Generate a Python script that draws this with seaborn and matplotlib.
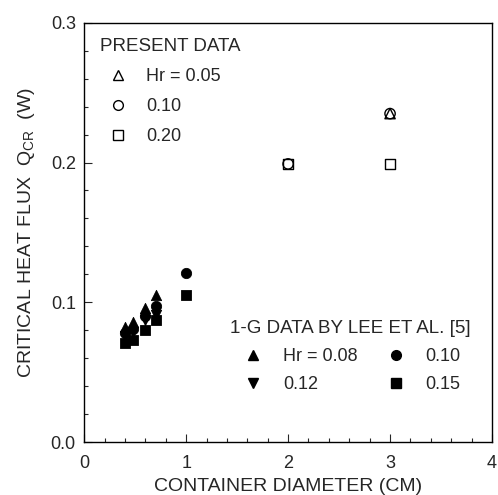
import numpy as np
import pandas as pd
import matplotlib
matplotlib.use("Agg")
import matplotlib.pyplot as plt
from matplotlib.ticker import MultipleLocator, FormatStrFormatter
import seaborn as sns

# present data (open symbols)
hr005_d = [3.0]
hr005_q = [0.235]
hr010_d = [2.0, 3.0]
hr010_q = [0.199, 0.235]
hr020_d = [2.0, 3.0]
hr020_q = [0.199, 0.199]

# 1-G data by Lee et al. (filled symbols)
lee008_d = [0.4, 0.48, 0.6, 0.7]
lee008_q = [0.082, 0.086, 0.096, 0.105]
lee010_d = [0.4, 0.48, 0.6, 0.7, 1.0]
lee010_q = [0.078, 0.081, 0.090, 0.097, 0.121]
lee012_d = [0.4, 0.48, 0.6, 0.7]
lee012_q = [0.076, 0.079, 0.087, 0.091]
lee015_d = [0.4, 0.48, 0.6, 0.7, 1.0]
lee015_q = [0.071, 0.073, 0.080, 0.087, 0.105]

sns.set_style("ticks")
plt.rcParams['font.family'] = ['Liberation Sans', 'DejaVu Sans']
plt.rcParams['mathtext.fontset'] = 'custom'
plt.rcParams['mathtext.rm'] = 'Liberation Sans'
plt.rcParams['mathtext.it'] = 'Liberation Sans'

fig = plt.figure(figsize=(4.98, 4.95), dpi=100)
ax = fig.add_axes([0.169, 0.107, 0.819, 0.847])

ms = 55
open_kw = dict(facecolor="none", edgecolor="black", linewidth=1.0, s=ms)
fill_kw = dict(color="black", edgecolor="black", s=ms)

sns.scatterplot(x=hr005_d, y=hr005_q, marker="^", ax=ax, **open_kw)
sns.scatterplot(x=hr010_d, y=hr010_q, marker="o", ax=ax, **open_kw)
sns.scatterplot(x=hr020_d, y=hr020_q, marker="s", ax=ax, **open_kw)
sns.scatterplot(x=lee008_d, y=lee008_q, marker="^", ax=ax, **fill_kw)
sns.scatterplot(x=lee010_d, y=lee010_q, marker="o", ax=ax, **fill_kw)
sns.scatterplot(x=lee012_d, y=lee012_q, marker="v", ax=ax, **fill_kw)
sns.scatterplot(x=lee015_d, y=lee015_q, marker="s", ax=ax, **fill_kw)

ax.set_xlim(0, 4)
ax.set_ylim(0, 0.3)
ax.xaxis.set_major_locator(MultipleLocator(1))
ax.xaxis.set_minor_locator(MultipleLocator(0.2))
ax.yaxis.set_major_locator(MultipleLocator(0.1))
ax.yaxis.set_minor_locator(MultipleLocator(0.02))
ax.xaxis.set_major_formatter(FormatStrFormatter('%d'))
ax.yaxis.set_major_formatter(FormatStrFormatter('%.1f'))
ax.tick_params(which="both", direction="in", labelsize=13, top=False, right=False, width=0.8)
ax.tick_params(which="major", length=6)
ax.tick_params(axis="x", which="major", pad=9)
ax.tick_params(axis="y", which="major", pad=6)
ax.tick_params(which="minor", length=3)
for sp in ax.spines.values():
    sp.set_linewidth(1.0)
    sp.set_color("black")

ax.set_xlabel("CONTAINER DIAMETER (CM)", fontsize=14, labelpad=5)
ax.set_ylabel("CRITICAL HEAT FLUX  Q$_{\\mathrm{CR}}$  (W)", fontsize=14, labelpad=10)

def mk(marker, filled):
    return plt.Line2D([], [], linestyle="none", marker=marker, markersize=7,
                      markerfacecolor="black" if filled else "none",
                      markeredgecolor="black", markeredgewidth=1.0)

leg1 = ax.legend([mk("^", False), mk("o", False), mk("s", False)],
                 ["Hr = 0.05", "0.10", "0.20"],
                 title="PRESENT DATA", loc="upper left", frameon=False,
                 fontsize=13, title_fontsize=13.5, labelspacing=0.72,
                 handletextpad=0.6, borderaxespad=0.45, alignment="left")
ax.add_artist(leg1)

ax.legend([mk("^", True), mk("v", True), mk("o", True), mk("s", True)],
          ["Hr = 0.08", "0.12", "0.10", "0.15"],
          title="1-G DATA BY LEE ET AL. [5]", loc="lower right", ncol=2,
          frameon=False, fontsize=13, title_fontsize=13.5, labelspacing=0.6,
          handlelength=2.6, handletextpad=0.35, columnspacing=0.8,
          borderaxespad=0, bbox_to_anchor=(0.965, 0.1), alignment="left")

fig.savefig("out.png", dpi=100)
